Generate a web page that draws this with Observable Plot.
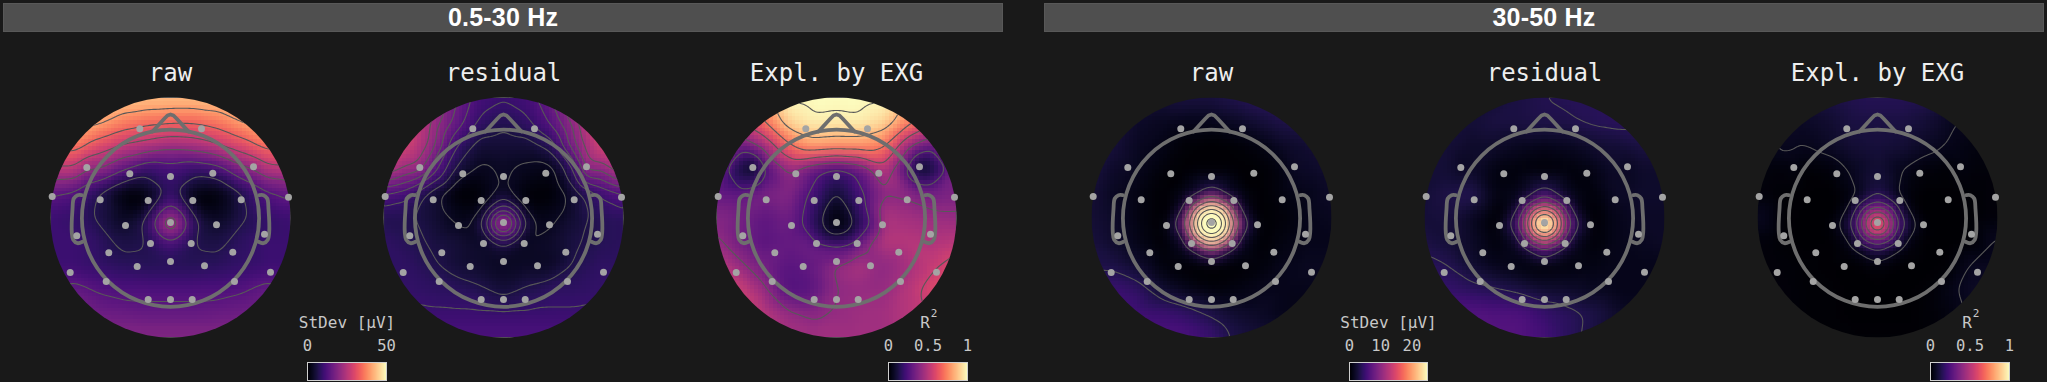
<!DOCTYPE html>
<html>
<head>
<meta charset="utf-8">
<script src="https://cdn.jsdelivr.net/npm/d3@7"></script>
<script src="https://cdn.jsdelivr.net/npm/@observablehq/plot@0.6"></script>
<style>
html,body{margin:0;padding:0;background:#191919;overflow:hidden}
#chart{position:relative;width:2047px;height:382px;background:#191919;overflow:hidden}
.band{position:absolute;top:3px;height:29px;background:#4f4f4f;box-shadow:inset 0 0 0 1px #585858;color:#fff;
font:bold 25px "Liberation Sans",Arial,sans-serif;letter-spacing:.2px;text-align:center;line-height:28px}
#chart svg{position:absolute;overflow:visible}
</style>
</head>
<body>
<div id="chart"></div>
<script>
// Band headers
const bandLabels = ["0.5-30 Hz", "30-50 Hz"];
const panelTitles = ["raw", "residual", "Expl. by EXG", "raw", "residual", "Expl. by EXG"];

// Sensor positions in head units (the scalp map has radius 120)
const sensorX = [-30.7,31,-83.7,83,-40.7,0,42.3,-118.3,118,-70.3,-22.3,22.3,70.7,-45,0,46,-93.7,94,-61.7,-20,20.7,62.3,-100.3,100,-33.3,0,34,-64.3,64,-22.3,0,21.7];
const sensorY = [88.7,88.7,50,50.7,43.7,41,44.3,21,20.3,17.7,17,17,17.7,-8,-5,-7.3,-18.3,-16.7,-35.3,-26,-26,-34.7,-55,-54.7,-49,-44,-48.3,-64,-64,-82,-82,-82];

// Head outline
const noseX = [-18,-6,-3,0,3,6,18];
const noseY = [86,99,102,103,102,99,86];
const earX = [88.7,93,96.7,98,98.7,97.3,93,88];
const earY = [22.3,22.3,19,8.3,-15,-22.3,-25.7,-24.3];

// Where the maps are sampled: a coarse lattice, rings round the central sensor, and two frontal sensors
const gridX = [-120,-96,-72,-48,-24,0,24,48,72,96,120];
const gridY = [120,96,72,48,24,0,-24,-48,-72,-96,-120];
const peakRadii = [7,14,21,28,36];
const peakAngles = [0,45,90,135,180,225,270,315];
const extraX = [-84,84];
const extraY = [50,50];

// 0.5-30 Hz raw, StDev in microvolts
const broadRawGrid = [
[44,44,44,44,44],
[43,41,37,35,34,34,36,40,43],
[36,30,26,24,22,23,26,30,35],
[25,25,20,14,9,11,9,11,18,24,25],
[14,12.5,7,1,1,7,12.5,15],
[10,9,6.5,3,3,6.5,9,10],
[10,10,8.5,6,6,8.5,10,10],
[10,10,9,8,7.5,7.5,7.5,8,9,10,10],
[15,13,12,12,12,12,12,13,15],
[17,16,15.5,15,15,15,15.5,16,17],
[19,19,19,19,19]];
const broadRawPeak = [26,
21,21,22,21,21,21,21,21,
16,15,17,15,16,15,16,15,
11,9,13,9,11,10,12,10,
7,5,11,5,7,8,10,8,
5,.5,9,.5,5,7,8,7];
const broadRawExtra = [21,21];

// 0.5-30 Hz residual, StDev in microvolts
const broadResGrid = [
[16.5,11,10,11,16],
[32,22,15,9,7,9,13.5,21,32],
[28,21,10,5,5,5,8,19,28],
[25,21,15,6,2.5,3.5,2.5,2,10,19,25],
[13,11,5,.5,.5,5,10,13],
[7,7,5,2.5,2.5,5,7.5,8],
[8.5,7.5,6,5,4,6,7.5,8],
[8.5,8.5,7,5,4,3,3.5,3.5,7,8.5,8.5],
[9,8.5,8,7,5,7,8.5,8.5,9],
[10,10,10,10,10,10,10,10,10],
[12,12,12,12,12]];
const broadResPeak = [25,
19,19,19.5,19,19,19,19,19,
12.5,12.5,12.5,12.5,12.5,12.5,12.5,12.5,
7.5,6.5,8.5,6.5,7.5,6.5,7.5,6.5,
4.5,2.5,6,2.5,4.5,3,5,3,
2.5,.5,3.5,.5,2.5,4,3.5,3.5];
const broadResExtra = [21,21];

// 0.5-30 Hz variance explained by EXG, R squared
const broadExpGrid = [
[1,1,1,1,1],
[.55,.7,.92,.97,.96,.97,.92,.75,.6],
[.3,.45,.68,.8,.78,.78,.72,.42,.28],
[.35,.1,.24,.42,.3,.22,.3,.5,.22,.1,.35],
[.3,.28,.35,.38,.4,.38,.33,.35],
[.38,.34,.28,.33,.48,.45,.43,.42],
[.42,.33,.27,.3,.5,.5,.48,.5],
[.52,.42,.33,.27,.3,.42,.47,.4,.46,.53,.6],
[.55,.42,.25,.27,.4,.42,.42,.5,.6],
[.55,.5,.42,.38,.42,.44,.45,.5,.55],
[.45,.45,.45,.45,.45]];
const broadExpPeak = [.02,
.04,.03,.02,.03,.05,.05,.05,.04,
.07,.07,.03,.07,.09,.1,.11,.1,
.12,.12,.05,.12,.14,.17,.22,.17,
.2,.18,.08,.18,.2,.25,.3,.27,
.25,.22,.11,.22,.26,.32,.32,.38];
const broadExpExtra = [.04,.05];

// 30-50 Hz raw, StDev in microvolts
const gammaRawGrid = [
[2.5,3,3,3.5,4],
[2.5,1.8,1.5,1.2,1.2,1.8,2.5,3.2,3.5],
[2.5,1.5,1,.3,.1,.3,.8,1.8,2.2],
[3,1.8,1.2,.5,.1,.2,.1,.2,.8,1.8,2.2],
[2.5,1.5,.8,.1,.1,.8,1.2,1.8],
[2.5,1.8,.8,.1,.1,.5,1.2,1.5],
[2.8,2,1,.2,.2,.8,1.2,1.2],
[3.2,3,2,.5,.1,0,.1,.5,1.2,1.5,1.5],
[5,4.2,2.2,1.2,.5,.8,1.2,1.2,1.2],
[5.5,5.2,5,4.3,3.2,2.2,1.8,1.2,1],
[6,6,5,3.2,2.5]];
const gammaRawPeak = [57,
48,48,48,48,48,48,48,48,
35,35,35,35,35,35,35,35,
21,21,21,21,21,21,21,21,
9.5,8.5,9.5,8.5,9.5,8.5,9.5,8.5,
3,1.5,3,1.5,3,1.5,3,1.5];
const gammaRawExtra = [1.8,1.8];

// 30-50 Hz residual, StDev in microvolts
const gammaResGrid = [
[2.5,3,3.5,3.8,3.8],
[2.5,2.5,3,3,3.3,3.3,3.8,4,4],
[2.5,2,2,1.5,1.2,1.5,2.2,2.5,3],
[2.5,2.5,2,.8,.5,.3,.5,1,2,2,2],
[2.5,3.2,3.6,.8,.5,1.8,2,2],
[2.5,2.8,1.5,.1,.1,1.2,1.8,1.8],
[3,2.5,1.8,.5,.3,1.2,1.5,1.8],
[4,3.5,2.2,1.2,.5,.2,.5,.8,1.2,1.2,1.2],
[4.5,4,3.6,3,2.2,2,1.5,1.2,1.2],
[5.5,6.5,6.2,6,4.8,4,3.2,2,1.5],
[6.5,6.5,5.5,4,3]];
const gammaResPeak = [29,
25,25,25,25,25,25,25,25,
18.5,18.5,18.5,18.5,18.5,18.5,18.5,18.5,
11,11,11,11,11,11,11,11,
6.5,5.5,7,5.5,6.5,5.5,6.5,5.5,
2.8,1.5,3.3,1.5,2.8,1.5,2.8,1.5];
const gammaResExtra = [1.5,1.5];

// 30-50 Hz variance explained by EXG, R squared
const gammaExpGrid = [
[.12,.14,.15,.15,.14],
[.05,.07,.09,.12,.12,.12,.1,.06,.03],
[.06,.05,.07,.1,.11,.1,.07,.045,.03],
[.02,.02,.01,.02,.06,.1,.05,.02,.01,.02,.02],
[.02,.01,.005,0,0,.005,.01,.02],
[.06,.01,0,0,0,0,.01,.02],
[.02,.01,0,.005,.005,0,.01,.06],
[.02,.015,.01,.005,.005,.02,.005,0,.01,.06,.06],
[.02,.01,.01,0,0,0,.01,.04,.07],
[.015,.01,.01,0,0,0,.01,.03,.06],
[.01,.01,.01,.01,.01]];
const gammaExpPeak = [.72,
.62,.62,.62,.62,.62,.62,.62,.62,
.42,.42,.42,.42,.42,.42,.42,.42,
.27,.27,.27,.27,.27,.27,.27,.27,
.14,.13,.18,.13,.14,.13,.14,.13,
.06,.03,.12,.03,.06,.03,.06,.03];
const gammaExpExtra = [.03,.03];

// Contour levels
const broadRawLevels = [7,13.5,20,26.5,33,39.5,46];
const broadResLevels = [3.2,6.4,9.6,12.8,16,19.2,22.4];
const broadExpLevels = [.1,.25,.4,.55,.7,.85,.98];
const gammaRawLevels = [3.5,10.5,17.5,24.5,31.5,38.5,45.5,52.5];
const gammaResLevels = [3.5,7,10.5,14,17.5,21,24.5,28];
const gammaExpLevels = [.05,.15,.25,.35,.45,.55,.65];

// Colour ranges and legends
const broadDomain = [0,50];
const gammaDomain = [0,25];
const r2Domain = [0,1];
const broadTicks = [0,50];
const gammaTicks = [0,10,20];
const r2Ticks = [0,.5,1];

const chart = document.getElementById("chart");
const mono = '"DejaVu Sans Mono",monospace';

// Build the sample sites once
const sites = [];
gridY.forEach(y => gridX.forEach(x => {
  if (Math.hypot(x, y) <= 136 && Math.hypot(x, y + 6) >= 40) sites.push([x, y]);
}));
sites.push([0, -6]);
peakRadii.forEach(r => peakAngles.forEach(a => {
  const t = a * Math.PI / 180;
  sites.push([+(r * Math.cos(t)).toFixed(2) + 0.013 * (a % 90 ? 1 : 0), +(-6 + r * Math.sin(t)).toFixed(2)]);
}));
extraX.forEach((x, i) => sites.push([x, extraY[i]]));

function samples(grid, peak, extra) {
  const v = grid.flat().concat(peak, extra);
  return sites.map(([x, y], i) => ({x, y, v: v[i]}));
}

const sensors = sensorX.map((x, i) => ({x, y: sensorY[i]}));
const nose = noseX.map((x, i) => ({x, y: noseY[i]}));
const earL = earX.map((x, i) => ({x: -x, y: earY[i]}));
const earR = earX.map((x, i) => ({x, y: earY[i]}));

const headColor = "#6e6e6e";
let uid = 0;

function head(title, cx, data, domain, levels) {
  const mL = 30, mT = 45;
  const plot = Plot.plot({
    width: 300, height: 293,
    marginLeft: mL, marginRight: 30, marginTop: mT, marginBottom: 8,
    style: "background:transparent",
    x: {domain: [-120, 120], axis: null},
    y: {domain: [-120, 120], axis: null},
    color: {type: "linear", scheme: "magma", domain, clamp: true},
    marks: [
      Plot.raster(data, {x: "x", y: "y", fill: "v", interpolate: "barycentric", pixelSize: 3.75, blur: 1, imageRendering: "pixelated"}),
      Plot.contour(data, {x: "x", y: "y", value: "v", interpolate: "barycentric", thresholds: levels, stroke: "#585858", strokeWidth: 1.1, fill: "none", pixelSize: 2, blur: 2}),
      Plot.dot([{x: 0, y: -0.7}], {x: "x", y: "y", r: 88.6, stroke: headColor, strokeWidth: 3.8, fill: "none"}),
      Plot.line(nose, {x: "x", y: "y", stroke: headColor, strokeWidth: 3.8, strokeLinejoin: "round", strokeLinecap: "round"}),
      Plot.line(earL, {x: "x", y: "y", curve: "catmull-rom", stroke: headColor, strokeWidth: 3.8, strokeLinecap: "round"}),
      Plot.line(earR, {x: "x", y: "y", curve: "catmull-rom", stroke: headColor, strokeWidth: 3.8, strokeLinecap: "round"}),
      Plot.dot(sensors, {x: "x", y: "y", r: 3.5, fill: "#a4a4a4"}),
      Plot.text([title], {x: () => 0, y: () => 137, text: d => d, fontFamily: mono, fontSize: 24, fill: "#eeeeee", textAnchor: "middle", lineAnchor: "bottom"})
    ]
  });
  const svg = plot.tagName === "svg" ? plot : plot.querySelector("svg");
  const sx = plot.scale("x"), sy = plot.scale("y");
  const id = "scalp-" + (uid++);
  const ns = "http://www.w3.org/2000/svg";
  const cp = document.createElementNS(ns, "clipPath");
  cp.setAttribute("id", id);
  const c = document.createElementNS(ns, "circle");
  c.setAttribute("cx", sx.apply(0));
  c.setAttribute("cy", sy.apply(0));
  c.setAttribute("r", sx.apply(120) - sx.apply(0));
  cp.appendChild(c);
  svg.appendChild(cp);
  svg.querySelectorAll('g[aria-label="raster"],g[aria-label="contour"]').forEach(g => g.setAttribute("clip-path", `url(#${id})`));
  svg.style.left = (cx - mL - 120) + "px";
  svg.style.top = (217 - mT - 120) + "px";
  chart.appendChild(svg);
}

function legend(x0, x1, domain, ticks, labelMarks) {
  const mL = 30, mR = 30;
  const plot = Plot.plot({
    width: (x1 - x0) + mL + mR, height: 82,
    marginLeft: mL, marginRight: mR, marginTop: 62, marginBottom: 2,
    style: "background:transparent",
    x: {domain, axis: null},
    y: {domain: [0, 1], axis: null},
    color: {type: "linear", scheme: "magma", domain},
    marks: [
      Plot.raster({fill: (x) => x, x1: domain[0], x2: domain[1], y1: 0, y2: 1, pixelSize: 1}),
      Plot.frame({stroke: "#cfcfcf", strokeWidth: 1}),
      Plot.axisX({anchor: "top", ticks, tickSize: 0, tickPadding: 12, fontSize: 15.5, fontFamily: mono, fill: "#c8c8c8", label: null, tickFormat: d => String(d)}),
      ...labelMarks
    ]
  });
  const svg = plot.tagName === "svg" ? plot : plot.querySelector("svg");
  svg.style.left = (x0 - mL) + "px";
  svg.style.top = "300px";
  chart.appendChild(svg);
}

const stdevLabel = [Plot.text(["StDev [µV]"], {frameAnchor: "top", dy: -35, lineAnchor: "bottom", fontFamily: mono, fontSize: 16, fill: "#c8c8c8"})];
const r2Label = [
  Plot.text(["R"], {frameAnchor: "top", dx: -3, dy: -35, lineAnchor: "bottom", fontFamily: mono, fontSize: 16, fill: "#c8c8c8"}),
  Plot.text(["2"], {frameAnchor: "top", dx: 6, dy: -46, lineAnchor: "bottom", fontFamily: mono, fontSize: 11, fill: "#c8c8c8"})
];

[[3, 1003, bandLabels[0]], [1044, 2044, bandLabels[1]]].forEach(([a, b, t]) => {
  const d = document.createElement("div");
  d.className = "band";
  d.style.left = a + "px";
  d.style.width = (b - a) + "px";
  d.textContent = t;
  chart.appendChild(d);
});

head(panelTitles[0], 169.7, samples(broadRawGrid, broadRawPeak, broadRawExtra), broadDomain, broadRawLevels);
head(panelTitles[1], 503, samples(broadResGrid, broadResPeak, broadResExtra), broadDomain, broadResLevels);
head(panelTitles[2], 836, samples(broadExpGrid, broadExpPeak, broadExpExtra), r2Domain, broadExpLevels);
head(panelTitles[3], 1211, samples(gammaRawGrid, gammaRawPeak, gammaRawExtra), gammaDomain, gammaRawLevels);
head(panelTitles[4], 1544.3, samples(gammaResGrid, gammaResPeak, gammaResExtra), gammaDomain, gammaResLevels);
head(panelTitles[5], 1877.3, samples(gammaExpGrid, gammaExpPeak, gammaExpExtra), r2Domain, gammaExpLevels);

legend(307, 386, broadDomain, broadTicks, stdevLabel);
legend(888, 967, r2Domain, r2Ticks, r2Label);
legend(1349, 1427, gammaDomain, gammaTicks, stdevLabel);
legend(1930, 2009, r2Domain, r2Ticks, r2Label);
</script>
</body>
</html>
